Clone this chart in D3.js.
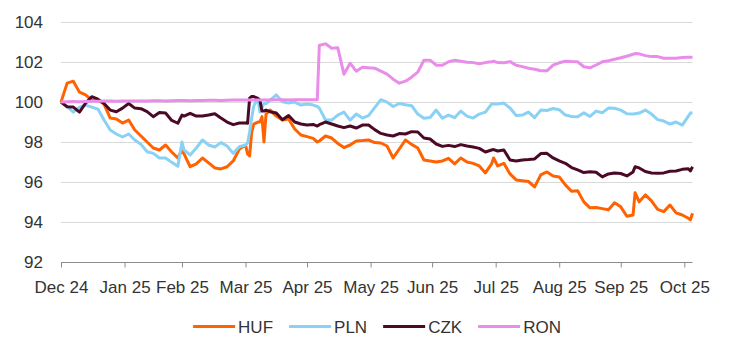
<!DOCTYPE html>
<html><head><meta charset="utf-8">
<script src="https://cdn.jsdelivr.net/npm/d3@7"></script>
<style>
html,body{margin:0;padding:0;background:#fff;}
svg text{font-family:"Liberation Sans",Arial,sans-serif;fill:#333;}
</style></head>
<body><svg id="chart" width="742" height="356"></svg>
<script>
const dates = ["2024-12-31",
"2025-01-03","2025-01-06","2025-01-09","2025-01-12","2025-01-15","2025-01-18","2025-01-21","2025-01-24","2025-01-27","2025-01-30",
"2025-02-02","2025-02-05","2025-02-08","2025-02-11","2025-02-14","2025-02-17","2025-02-20","2025-02-23","2025-02-26","2025-02-28",
"2025-03-01","2025-03-04","2025-03-07","2025-03-10","2025-03-13","2025-03-16","2025-03-19","2025-03-22","2025-03-25","2025-03-28","2025-03-31",
"2025-04-01","2025-04-02","2025-04-03","2025-04-04","2025-04-06","2025-04-07","2025-04-08","2025-04-09","2025-04-10","2025-04-12","2025-04-15","2025-04-18","2025-04-21","2025-04-24","2025-04-27","2025-04-30",
"2025-05-03","2025-05-05","2025-05-06","2025-05-09","2025-05-12","2025-05-15","2025-05-18","2025-05-21","2025-05-24","2025-05-27","2025-05-30",
"2025-06-02","2025-06-05","2025-06-08","2025-06-11","2025-06-14","2025-06-17","2025-06-20","2025-06-23","2025-06-26","2025-06-29",
"2025-07-02","2025-07-05","2025-07-08","2025-07-11","2025-07-14","2025-07-17","2025-07-20","2025-07-23","2025-07-26","2025-07-29","2025-07-30",
"2025-08-01","2025-08-04","2025-08-07","2025-08-10","2025-08-13","2025-08-16","2025-08-19","2025-08-22","2025-08-25","2025-08-28","2025-08-31",
"2025-09-03","2025-09-06","2025-09-09","2025-09-12","2025-09-15","2025-09-18","2025-09-21","2025-09-24","2025-09-27","2025-09-30",
"2025-10-03","2025-10-06","2025-10-07","2025-10-09","2025-10-12","2025-10-15","2025-10-18","2025-10-21","2025-10-24","2025-10-27","2025-10-30",
"2025-11-02","2025-11-03","2025-11-04"];

const huf = [100.0,
100.95,101.05,100.5,100.36,100.1,100.1,99.9,99.2,99.15,98.95,
99.1,98.6,98.3,98.0,97.7,97.6,97.85,97.5,97.2,97.6,
97.4,96.76,96.9,97.2,96.95,96.7,96.65,96.76,97.05,97.65,97.85,
97.4,97.3,98.5,98.9,99.0,99.0,99.27,98.0,99.4,99.6,99.3,99.1,99.15,98.65,98.35,98.27,
98.18,98.0,98.05,98.3,98.2,97.93,97.72,97.85,98.05,98.07,98.1,
97.97,97.95,97.8,97.2,97.65,98.1,97.88,97.7,97.1,97.05,
97.0,97.05,97.18,96.9,97.2,97.0,96.93,96.8,96.45,96.9,97.2,
96.8,96.93,96.4,96.1,96.06,96.02,95.75,96.35,96.5,96.3,96.25,
95.85,95.53,95.56,95.0,94.7,94.72,94.66,94.6,94.95,94.75,
94.28,94.34,95.46,95.0,95.35,95.05,94.62,94.51,94.84,94.45,94.34,
94.18,94.1,94.43];

const pln = [100.0,
99.77,99.5,99.75,99.85,99.75,99.65,99.1,98.6,98.4,98.25,
98.4,98.1,97.88,97.51,97.43,97.2,97.2,96.98,96.78,98.0,
97.6,97.35,97.7,98.1,97.85,97.75,97.97,97.8,97.43,97.76,97.85,
97.95,98.5,99.2,99.8,100.19,99.5,99.7,99.93,99.93,100.1,100.36,100.02,99.95,100.0,99.85,99.9,
99.85,99.78,99.7,99.1,99.1,99.35,99.5,99.1,99.4,99.2,99.32,
99.72,100.12,100.0,99.78,99.93,99.87,99.82,99.4,99.19,99.23,
99.6,99.19,99.35,99.22,99.55,99.3,99.2,99.4,99.5,99.9,99.9,
99.9,99.95,99.7,99.33,99.35,99.5,99.22,99.6,99.58,99.68,99.62,
99.35,99.28,99.27,99.46,99.28,99.55,99.47,99.7,99.69,99.6,
99.42,99.4,99.42,99.45,99.6,99.4,99.12,99.05,98.9,99.0,98.85,
99.3,99.45,99.47];

const czk = [100.0,
99.77,99.75,99.5,99.95,100.27,100.15,99.93,99.6,99.52,99.7,
99.93,99.7,99.67,99.52,99.27,99.48,99.45,99.08,98.94,99.35,
99.3,99.44,99.3,99.3,99.35,99.42,99.2,99.0,98.87,98.95,98.95,
98.94,100.2,100.28,100.28,100.19,100.1,99.55,99.55,99.6,99.52,99.45,99.12,99.33,99.0,98.9,98.85,
98.88,98.8,98.87,99.0,98.9,98.8,98.72,98.8,98.7,98.85,98.85,
98.62,98.43,98.35,98.3,98.42,98.4,98.52,98.5,98.2,98.15,
97.9,97.78,97.83,97.77,97.87,97.8,97.75,97.68,97.5,97.6,97.62,
97.55,97.6,97.1,97.05,97.1,97.12,97.15,97.42,97.43,97.2,97.05,
96.93,96.72,96.6,96.47,96.51,96.48,96.25,96.4,96.45,96.42,
96.3,96.5,96.76,96.7,96.52,96.45,96.43,96.45,96.53,96.55,96.63,
96.66,96.55,96.76];

const ron = [100.0,
100.02,100.03,100.02,100.03,100.04,100.04,100.05,100.05,100.04,100.05,
100.06,100.06,100.05,100.06,100.07,100.07,100.06,100.07,100.08,100.08,
100.08,100.07,100.08,100.08,100.09,100.09,100.08,100.09,100.1,100.1,100.1,
100.1,100.1,100.11,100.11,100.1,100.1,100.11,100.1,100.11,100.11,100.12,100.12,100.11,100.12,100.12,100.12,
100.12,100.12,102.85,102.92,102.7,102.72,101.4,101.95,101.55,101.75,101.72,
101.7,101.55,101.4,101.15,100.95,101.05,101.25,101.5,102.1,102.1,
101.85,101.85,102.02,102.1,102.05,102.0,101.98,101.92,101.98,102.02,102.05,
101.98,101.97,102.03,101.85,101.78,101.7,101.65,101.57,101.57,101.85,101.97,
102.05,102.03,102.02,101.77,101.72,101.86,102.02,102.07,102.15,102.22,
102.3,102.4,102.43,102.42,102.33,102.28,102.28,102.2,102.2,102.2,102.23,
102.25,102.25,102.25];

const seriesNames = ["HUF","PLN","CZK","RON"];
const seriesColors = ["#ff6200","#89d1f5","#4a0a26","#ea8cea"];
const tickDates = ["2024-12-31","2025-01-31","2025-02-28","2025-03-31","2025-04-30","2025-05-31","2025-06-30","2025-07-31","2025-08-31","2025-09-30","2025-10-31"];
const yTicks = [92,94,96,98,100,102,104];

const parse = d3.timeParse("%Y-%m-%d");
const fmt = d3.timeFormat("%b %y");
const allValues = [huf, pln, czk, ron];

const svg = d3.select("#chart");
svg.append("rect").attr("width",742).attr("height",356).attr("fill","#fff");

const x = d3.scaleTime()
  .domain([parse("2024-12-31"), parse("2025-11-04")])
  .range([61, 692.5]);
const y = d3.scaleLinear().domain([92,104]).range([261.7, 22.3]);

// gridlines
svg.append("g").selectAll("line").data(yTicks.filter(t => t > 92)).join("line")
  .attr("x1", 61).attr("x2", 692.5)
  .attr("y1", d => Math.round(y(d)) + 0.5).attr("y2", d => Math.round(y(d)) + 0.5)
  .attr("stroke", "#d9d9d9").attr("stroke-width", 1);

// y labels
const yAxis = d3.axisLeft(y).tickValues(yTicks).tickSize(0).tickPadding(0).tickFormat(d3.format("d"));
const gy = svg.append("g").attr("transform","translate(43,0)").call(yAxis);
gy.select(".domain").remove();
gy.selectAll("text").attr("font-size", 17).attr("font-family","Liberation Sans, Arial, sans-serif").attr("fill","#333");

// x axis
const xAxis = d3.axisBottom(x).tickValues(tickDates.map(parse)).tickSize(5).tickPadding(13).tickFormat(fmt);
const gx = svg.append("g").attr("transform", `translate(0,${Math.round(y(92)) + 0.5})`).call(xAxis);
gx.select(".domain").attr("stroke","#8c8c8c").attr("d", `M61,0H692.5`);
gx.selectAll(".tick line").attr("stroke","#8c8c8c");
gx.selectAll("text").attr("font-size", 17).attr("font-family","Liberation Sans, Arial, sans-serif").attr("fill","#333");

// lines
const line = d3.line()
  .x((d, i) => x(parse(dates[i])))
  .y(d => y(d));
const lg = svg.append("g");
allValues.forEach((vals, k) => {
  lg.append("path").datum(vals)
    .attr("d", line)
    .attr("fill","none")
    .attr("stroke", seriesColors[k])
    .attr("stroke-width", 3)
    .attr("stroke-linejoin","round")
    .attr("stroke-linecap","butt");
});

// legend
const leg = svg.append("g");
let cx = 0;
const items = [];
seriesNames.forEach((name, k) => {
  const g = leg.append("g");
  g.append("line").attr("x1", 0).attr("x2", 42).attr("y1", 0).attr("y2", 0)
    .attr("stroke", seriesColors[k]).attr("stroke-width", 3);
  const t = g.append("text").attr("x", 45).attr("y", 6.5).attr("font-size", 17).text(name);
  const w = 45 + t.node().getComputedTextLength();
  g.attr("data-w", w);
  items.push({g, w});
});
const gap = 16;
const total = d3.sum(items, d => d.w) + gap * (items.length - 1);
let start = 377 - total / 2;
items.forEach(it => {
  it.g.attr("transform", `translate(${start},326.5)`);
  start += it.w + gap;
});
</script></body></html>
